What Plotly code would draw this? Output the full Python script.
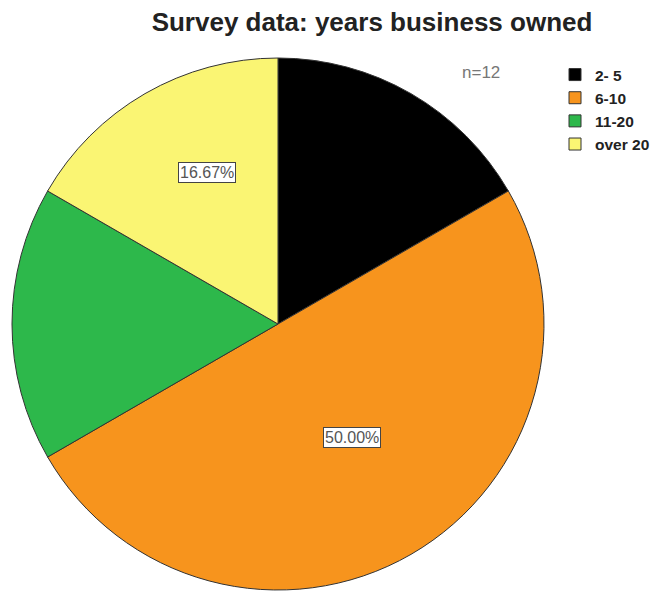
import math
import plotly.graph_objects as go

categories = ["2- 5", "6-10", "11-20", "over 20"]
counts = [2, 6, 2, 2]
colors = ["#000000", "#F7941D", "#2DB84B", "#FAF573"]
shown_labels = [False, True, False, True]
label_radius = [0.55, 0.51, 0.55, 0.63]
label_angle_shift = [0, -3, 0, 5]  # degrees

# figure sized to fit the window after the page's 8px body margin
OFF = 8
W, H = 668 - OFF, 591 - OFF


def px_x(x):
    return (x - OFF) / W


def px_y(y):
    return 1 - (y - OFF) / H


cx, cy, R = 278, 324, 266  # screen pixels

fig = go.Figure()
fig.add_trace(go.Pie(
    labels=categories,
    values=counts,
    marker=dict(colors=colors, line=dict(color="#333333", width=1)),
    sort=False,
    direction="clockwise",
    rotation=0,
    textinfo="none",
    hoverinfo="label+percent",
    domain=dict(x=[px_x(cx - R), px_x(cx + R)], y=[px_y(cy + R), px_y(cy - R)]),
))

total = sum(counts)
cum = 0
for i, v in enumerate(counts):
    mid = (cum + v / 2) / total * 2 * math.pi + math.radians(label_angle_shift[i])
    cum += v
    if not shown_labels[i]:
        continue
    sx = cx + label_radius[i] * R * math.sin(mid)
    sy = cy - label_radius[i] * R * math.cos(mid)
    fig.add_annotation(
        x=px_x(sx), y=px_y(sy), xref="paper", yref="paper",
        xanchor="center", yanchor="middle",
        text=f"{v / total * 100:.2f}%", showarrow=False,
        font=dict(family="Liberation Sans, Arial", size=16, color="#555555"),
        bgcolor="white", bordercolor="#444444", borderwidth=1, borderpad=1,
    )

fig.add_annotation(
    x=px_x(481), y=px_y(72), xref="paper", yref="paper",
    xanchor="center", yanchor="middle",
    text=f"n={total}", showarrow=False,
    font=dict(family="Liberation Sans, Arial", size=17, color="#777777"),
)

fig.update_layout(
    width=W, height=H,
    margin=dict(l=0, r=0, t=0, b=0),
    paper_bgcolor="white",
    plot_bgcolor="white",
    title=dict(
        text="<b>Survey data: years business owned</b>",
        x=px_x(372), xanchor="center", y=px_y(22), yanchor="middle",
        font=dict(family="Liberation Sans, Arial", size=26, color="#222222"),
    ),
    legend=dict(
        x=px_x(555), y=px_y(58), xanchor="left", yanchor="top",
        font=dict(family="Liberation Sans, Arial", size=15.5, color="#222222", weight="bold"),
        itemwidth=30,
        bgcolor="rgba(0,0,0,0)",
    ),
    showlegend=True,
)

fig.write_html("out.html")
